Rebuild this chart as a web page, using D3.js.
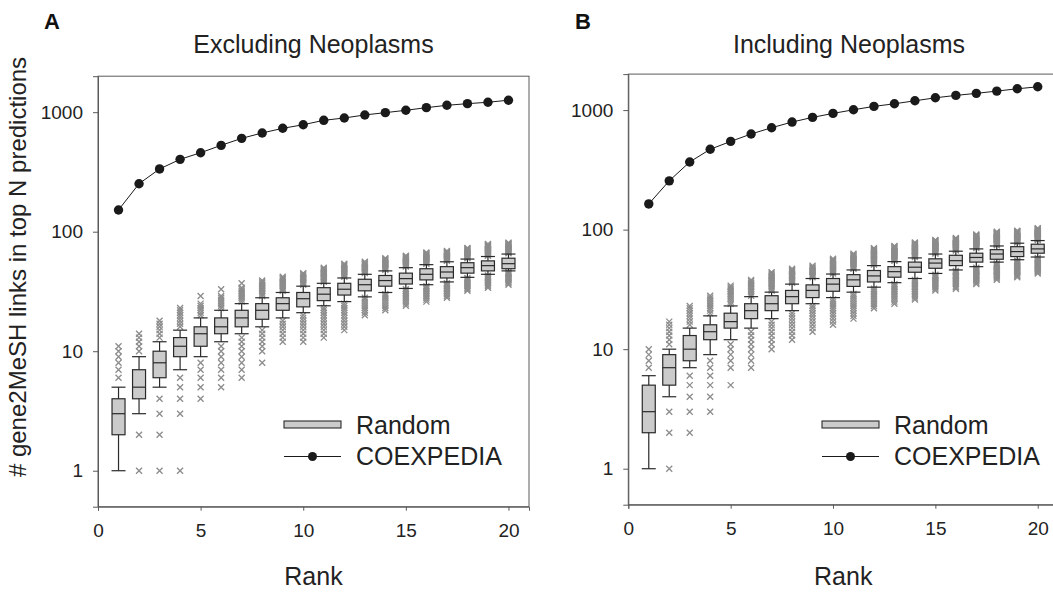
<!DOCTYPE html>
<html>
<head>
<meta charset="utf-8">
<script src="https://cdn.jsdelivr.net/npm/d3@7"></script>
<style>
  body { margin: 0; background: #fff; }
  svg { display: block; font-family: "Liberation Sans", Arial, sans-serif; }
</style>
</head>
<body>
<div id="chart"></div>
<script>
// ---- data ----
const ranks = [1, 2, 3, 4, 5, 6, 7, 8, 9, 10, 11, 12, 13, 14, 15, 16, 17, 18, 19, 20];
const xTicks = [0, 5, 10, 15, 20];
const yTicks = [1, 10, 100, 1000];

// A: Excluding Neoplasms
const coexExcl = [152, 252, 335, 403, 458, 528, 604, 670, 733, 785, 855, 894, 948, 991, 1037, 1091, 1142, 1178, 1211, 1259];
const loWhiskExcl = [1, 3, 5, 7, 9, 12, 14, 16, 19, 21, 24, 26, 28.5, 31, 33.5, 36, 38, 41.5, 44, 47];
const q1Excl = [2, 4, 6, 9, 11, 14, 16, 18.5, 22, 23.5, 26.5, 29.5, 32, 35, 36.5, 39.5, 41, 45, 47, 49];
const medianExcl = [3, 5, 8, 11, 14, 16, 19, 22, 25, 27.5, 30, 33, 36, 39, 40.5, 44, 46, 50, 52, 54];
const q3Excl = [4, 7, 10, 13, 16, 19, 22, 25, 28, 31, 34, 37, 40, 43, 45, 49, 51, 55, 57, 60];
const hiWhiskExcl = [5, 9, 12, 15, 19, 22, 25, 28, 31, 35, 37, 41, 44, 47, 50, 53, 56, 59, 62, 65];
// outlier counts, as runs of consecutive integer values [from, to]
const outliersExcl = [
  [[6, 11]],
  [[1, 2], [10, 14]],
  [[1, 4], [13, 18]],
  [[1, 1], [3, 6], [16, 23]],
  [[4, 8], [20, 25], [29, 29]],
  [[5, 11], [23, 29], [33, 33]],
  [[6, 13], [26, 34], [37, 37]],
  [[8, 8], [10, 15], [29, 39]],
  [[12, 18], [32, 42]],
  [[12, 20], [36, 45]],
  [[13, 23], [38, 50]],
  [[15, 25], [42, 54]],
  [[20, 28], [45, 56]],
  [[22, 30], [48, 60]],
  [[24, 33], [51, 63]],
  [[26, 35], [54, 67]],
  [[28, 37], [57, 69]],
  [[32, 41], [60, 73]],
  [[34, 43], [63, 79]],
  [[36, 46], [66, 81]]
];

// B: Including Neoplasms
const coexIncl = [164, 256, 368, 470, 547, 631, 712, 794, 869, 938, 1006, 1074, 1129, 1196, 1267, 1327, 1380, 1442, 1507, 1566];
const loWhiskIncl = [1, 4, 7, 9, 12, 15, 18, 21, 24, 27, 30, 33, 36, 39, 43, 46, 49, 53.5, 56, 59];
const q1Incl = [2, 5, 8, 12, 15, 18, 21, 24, 27, 30.5, 33.5, 36.5, 40, 44, 47.5, 50, 53.5, 56.5, 59.5, 63.5];
const medianIncl = [3, 7, 10, 14, 17, 21, 24, 27.5, 31, 35, 38, 41, 44.5, 48.5, 52.5, 55, 58.5, 62.5, 65.5, 69];
const q3Incl = [5, 9, 13, 16, 20, 24, 28, 31, 34.5, 39, 42, 45.5, 49, 53.5, 57, 61, 63.5, 68, 72, 75.5];
const hiWhiskIncl = [6, 10, 15, 19, 23, 27.5, 30, 35, 39, 42.5, 46, 50, 54, 58, 62.5, 66, 69, 73, 77, 81];
const outliersIncl = [
  [[7, 10]],
  [[1, 3], [11, 17]],
  [[2, 6], [16, 23]],
  [[3, 8], [20, 28]],
  [[5, 5], [7, 11], [24, 34]],
  [[7, 14], [28, 38]],
  [[10, 17], [31, 44]],
  [[12, 20], [36, 47]],
  [[14, 23], [40, 50]],
  [[16, 26], [43, 57]],
  [[18, 29], [47, 63]],
  [[22, 32], [51, 70]],
  [[24, 35], [55, 73]],
  [[26, 38], [59, 78]],
  [[31, 42], [63, 82]],
  [[32, 45], [67, 85]],
  [[35, 48], [70, 91]],
  [[38, 52], [74, 96]],
  [[40, 55], [78, 98]],
  [[43, 58], [82, 103]]
];

// ---- drawing ----
const svg = d3.select("#chart").append("svg")
  .attr("width", 1053)
  .attr("height", 592);

svg.append("rect").attr("width", 1053).attr("height", 592).attr("fill", "#fff");

function drawPanel(p) {
  const x = d3.scaleLinear().domain([0, 21]).range([p.left, p.right]);
  const y = d3.scaleLog().domain([0.5, 2000]).range([p.bottom, p.top]);
  const g = svg.append("g");

  // frame
  g.append("rect")
    .attr("x", p.left).attr("y", p.top)
    .attr("width", p.right - p.left).attr("height", p.bottom - p.top)
    .attr("fill", "none").attr("stroke", "#5a5a5a").attr("stroke-width", 1);

  // axes
  const xAxis = g.append("g")
    .attr("transform", `translate(0,${p.bottom})`)
    .call(d3.axisBottom(x).tickValues(xTicks).tickSize(4).tickPadding(13).tickFormat(d3.format("d")));
  const yAxis = g.append("g")
    .attr("transform", `translate(${p.left},0)`)
    .call(d3.axisLeft(y).tickValues(yTicks).tickSize(5).tickPadding(10).tickFormat(d3.format("d")));
  [xAxis, yAxis].forEach(a => {
    a.select(".domain").attr("stroke", "#5a5a5a");
    a.selectAll(".tick line").attr("stroke", "#5a5a5a");
    a.selectAll(".tick text")
      .attr("fill", "#222")
      .style("font-size", "19px")
      .style("font-family", '"Liberation Sans", Arial, sans-serif');
  });

  // outliers as grey crosses
  const pts = [];
  p.outliers.forEach((runs, i) => {
    runs.forEach(([a, b]) => {
      for (let v = a; v <= b; v++) pts.push({ r: ranks[i], v: v });
    });
  });
  const s = 3;
  g.append("g").selectAll("path")
    .data(pts)
    .join("path")
    .attr("d", d => {
      const cx = x(d.r), cy = y(d.v);
      return `M${cx - s},${cy - s}L${cx + s},${cy + s}M${cx - s},${cy + s}L${cx + s},${cy - s}`;
    })
    .attr("stroke", "#8c8c8c")
    .attr("stroke-width", 1.3)
    .attr("fill", "none");

  // box plots
  const boxes = ranks.map((r, i) => ({
    r, lo: p.lo[i], q1: p.q1[i], med: p.med[i], q3: p.q3[i], hi: p.hi[i]
  }));
  const bw = 13, cw = 14;
  const bg = g.append("g").selectAll("g").data(boxes).join("g");
  bg.append("line")
    .attr("x1", d => x(d.r)).attr("x2", d => x(d.r))
    .attr("y1", d => y(d.lo)).attr("y2", d => y(d.hi))
    .attr("stroke", "#2a2a2a").attr("stroke-width", 1.2);
  bg.append("line")
    .attr("x1", d => x(d.r) - cw / 2).attr("x2", d => x(d.r) + cw / 2)
    .attr("y1", d => y(d.lo)).attr("y2", d => y(d.lo))
    .attr("stroke", "#2a2a2a").attr("stroke-width", 1.2);
  bg.append("line")
    .attr("x1", d => x(d.r) - cw / 2).attr("x2", d => x(d.r) + cw / 2)
    .attr("y1", d => y(d.hi)).attr("y2", d => y(d.hi))
    .attr("stroke", "#2a2a2a").attr("stroke-width", 1.2);
  bg.append("rect")
    .attr("x", d => x(d.r) - bw / 2).attr("width", bw)
    .attr("y", d => y(d.q3)).attr("height", d => y(d.q1) - y(d.q3))
    .attr("fill", "#cbcbcb").attr("stroke", "#2a2a2a").attr("stroke-width", 1.2);
  bg.append("line")
    .attr("x1", d => x(d.r) - bw / 2).attr("x2", d => x(d.r) + bw / 2)
    .attr("y1", d => y(d.med)).attr("y2", d => y(d.med))
    .attr("stroke", "#2a2a2a").attr("stroke-width", 1.2);

  // COEXPEDIA line + dots
  const line = d3.line().x((d, i) => x(ranks[i])).y(d => y(d));
  g.append("path").datum(p.coex)
    .attr("d", line).attr("fill", "none")
    .attr("stroke", "#1a1a1a").attr("stroke-width", 1);
  g.append("g").selectAll("circle").data(p.coex).join("circle")
    .attr("cx", (d, i) => x(ranks[i])).attr("cy", d => y(d))
    .attr("r", 4.7).attr("fill", "#1a1a1a");

  // legend
  const lx = p.legendX;
  g.append("rect").attr("x", lx).attr("y", 421).attr("width", 57).attr("height", 7)
    .attr("fill", "#cbcbcb").attr("stroke", "#2a2a2a").attr("stroke-width", 1.1);
  g.append("text").attr("x", lx + 72).attr("y", 434).text("Random")
    .style("font-size", "25px").attr("fill", "#222");
  g.append("line").attr("x1", lx).attr("x2", lx + 57).attr("y1", 456.5).attr("y2", 456.5)
    .attr("stroke", "#1a1a1a").attr("stroke-width", 1);
  g.append("circle").attr("cx", lx + 28.5).attr("cy", 456.5).attr("r", 4.5).attr("fill", "#1a1a1a");
  g.append("text").attr("x", lx + 72).attr("y", 465).text("COEXPEDIA")
    .style("font-size", "25px").attr("fill", "#222");

  // titles
  g.append("text").attr("x", p.titleX).attr("y", 53).attr("text-anchor", "middle")
    .text(p.title).style("font-size", "25px").attr("fill", "#222");
  g.append("text").attr("x", p.letterX).attr("y", 29).text(p.letter)
    .style("font-size", "22px").style("font-weight", "bold").attr("fill", "#111");
  g.append("text").attr("x", (p.left + p.right) / 2).attr("y", 585).attr("text-anchor", "middle")
    .text("Rank").style("font-size", "25px").attr("fill", "#222");
}

drawPanel({
  left: 98, right: 529, top: 76.2, bottom: 506.7,
  coex: coexExcl, lo: loWhiskExcl, q1: q1Excl, med: medianExcl, q3: q3Excl, hi: hiWhiskExcl,
  outliers: outliersExcl, legendX: 284,
  title: "Excluding Neoplasms", titleX: 313.5, letter: "A", letterX: 44
});

drawPanel({
  left: 628.3, right: 1058.2, top: 74.1, bottom: 504.7,
  coex: coexIncl, lo: loWhiskIncl, q1: q1Incl, med: medianIncl, q3: q3Incl, hi: hiWhiskIncl,
  outliers: outliersIncl, legendX: 822,
  title: "Including Neoplasms", titleX: 849, letter: "B", letterX: 575
});

// y axis label (left panel only)
svg.append("text")
  .attr("transform", "translate(18,267) rotate(-90)")
  .attr("text-anchor", "middle")
  .attr("dy", "0.35em")
  .text("# gene2MeSH links in top N predictions")
  .style("font-size", "24px")
  .attr("fill", "#222");
</script>
</body>
</html>
